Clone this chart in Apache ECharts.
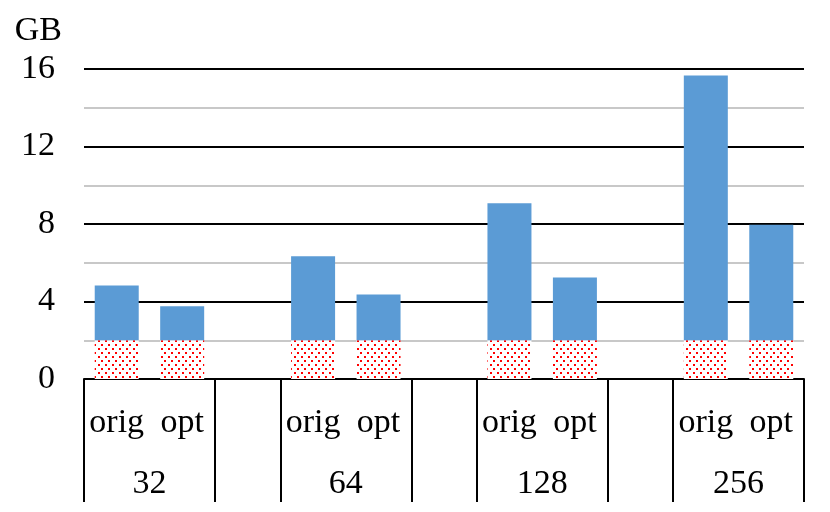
<!DOCTYPE html>
<html>
<head>
<meta charset="utf-8">
<script src="https://cdn.jsdelivr.net/npm/echarts@6/dist/echarts.min.js"></script>
<style>html,body{margin:0;padding:0;background:#fff}#c{width:830px;height:512px}</style>
</head>
<body>
<div id="c"></div>
<script>
// Data
var categories = ['orig','opt','','orig','opt','','orig','opt','','orig','opt'];
var groupLabels = ['32','64','128','256'];
var groupAxis = ['','32','','','64','','','128','','','256',''];
var origTotals = [4.83, 6.33, 9.07, 15.67];
var optTotals = [3.76, 4.36, 5.24, 7.96];
var baseValue = [2.0, 2.0, 2.0, 2.0];
var yTicks = [0, 4, 8, 12, 16];

var baseData = [], topData = [];
for (var g = 0; g < groupLabels.length; g++) {
  baseData.push(baseValue[g], baseValue[g]);
  topData.push(+(origTotals[g] - baseValue[g]).toFixed(2), +(optTotals[g] - baseValue[g]).toFixed(2));
  if (g < groupLabels.length - 1) { baseData.push(null); topData.push(null); }
}
var tickIdx = [0, 2, 3, 5, 6, 8, 9];
var font = 'Liberation Serif';
var fs = 34;

var chart = echarts.init(document.getElementById('c'), null, {renderer: 'canvas'});
chart.setOption({
  animation: false,
  grid: {left: 84, right: 26, top: 69, bottom: 133},
  xAxis: [{
    type: 'category',
    data: categories,
    axisLine: {lineStyle: {color: '#000', width: 2}},
    axisTick: {show: true, length: 123, lineStyle: {color: '#000', width: 2},
      interval: function (i) { return tickIdx.indexOf(i) >= 0; }},
    axisLabel: {interval: 0, fontSize: fs, color: '#000', fontFamily: font, margin: 27}
  }, {
    type: 'category',
    position: 'bottom',
    boundaryGap: false,
    data: groupAxis,
    axisLine: {show: false},
    axisTick: {show: false},
    axisLabel: {interval: 0, fontSize: fs, color: '#000', fontFamily: font, margin: 88}
  }],
  yAxis: {
    type: 'value', min: yTicks[0], max: yTicks[yTicks.length - 1], interval: 4,
    name: 'GB', nameLocation: 'end', nameGap: 21,
    nameTextStyle: {fontSize: fs, color: '#000', fontFamily: font, align: 'right', padding: [0, 22, 0, 0]},
    axisLine: {show: false}, axisTick: {show: false},
    axisLabel: {fontSize: fs, color: '#000', fontFamily: font, margin: 29,
      padding: [4, 0, 0, 0]},
    splitLine: {lineStyle: {color: '#000', width: 2}},
    minorTick: {show: false, splitNumber: 2},
    minorSplitLine: {show: true, lineStyle: {color: '#c8c8c8', width: 2}}
  },
  series: [{
    type: 'bar', stack: 's', barWidth: 44, data: baseData,
    itemStyle: {color: '#ffffff', decal: {symbol: 'rect', symbolSize: 1, color: '#ff0000',
      dashArrayX: [[2, 5], [0, 3, 2, 2]], dashArrayY: [2, 2]}}
  }, {
    type: 'bar', stack: 's', barWidth: 44, data: topData,
    itemStyle: {color: '#5B9BD5'}
  }]
});
</script>
</body>
</html>
